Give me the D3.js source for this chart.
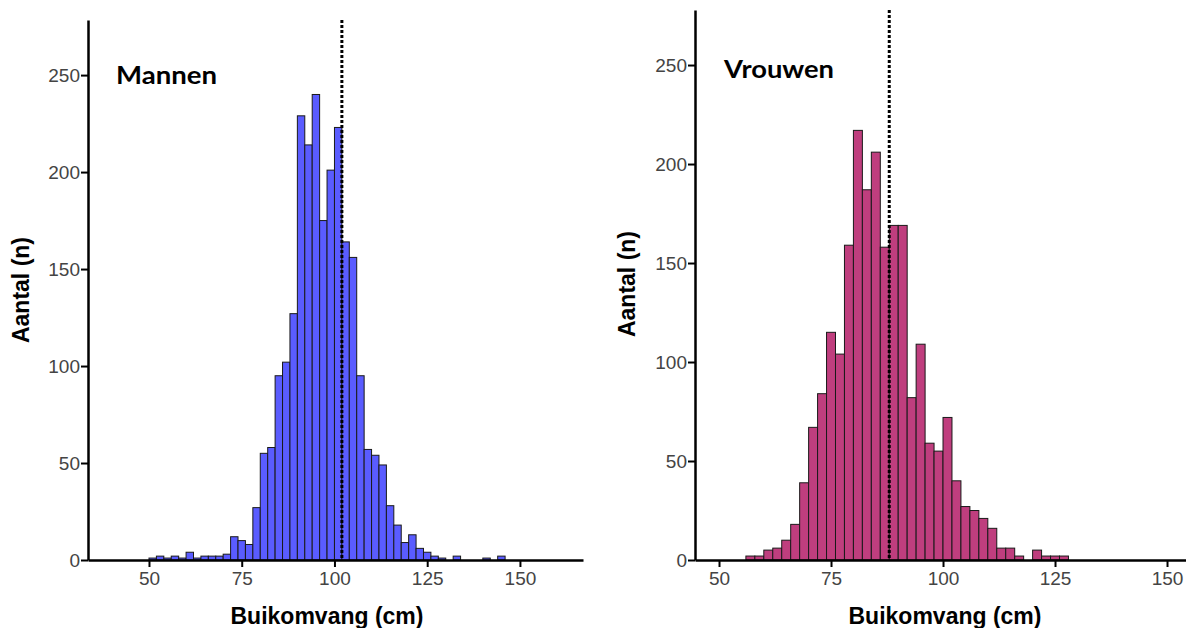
<!DOCTYPE html>
<html>
<head>
<meta charset="utf-8">
<script src="https://cdn.jsdelivr.net/npm/d3@7"></script>
<style>
  html, body { margin: 0; padding: 0; background: #fff; }
  svg { display: block; }
</style>
</head>
<body>
<svg id="chart" width="1186" height="628"></svg>
<script>
// ---- Data (bin width 2 cm, bin start values) ----
const binWidth = 2;
const menBinStarts = d3.range(50, 146, 2);
const menCounts = [1, 2, 1, 2, 1, 4, 1, 2, 2, 2, 3, 12, 10, 8, 27, 55, 58, 95, 102, 127,
  229, 214, 240, 175, 201, 223, 164, 156, 95, 57, 54, 49, 28, 18, 9, 13, 6, 4, 2, 1,
  0, 2, 0, 0, 0, 1, 0, 2];
const womenBinStarts = d3.range(56, 128, 2);
const womenCounts = [2, 2, 5, 6, 10, 18, 39, 67, 84, 115, 104, 159, 217, 187, 206, 158,
  169, 169, 82, 109, 59, 55, 72, 40, 27, 25, 21, 16, 6, 6, 2, 0, 5, 2, 2, 2];
const xTicks = [50, 75, 100, 125, 150];
const yTicks = [0, 50, 100, 150, 200, 250];
const menCutoff = 102;
const womenCutoff = 88;
const titles = ["Mannen", "Vrouwen"];
const xTitle = "Buikomvang (cm)";
const yTitle = "Aantal (n)";

const svg = d3.select("#chart");
const sans = "'Liberation Sans', Arial, sans-serif";

function panel(cfg) {
  const g = svg.append("g");
  const x = d3.scaleLinear().domain(cfg.xDomain).range([cfg.left, cfg.right]);
  const y = d3.scaleLinear().domain(cfg.yDomain).range([cfg.bottom, cfg.top]);
  const bins = cfg.starts.map((s, i) => ({x0: s, x1: s + binWidth, n: cfg.counts[i]}));

  g.selectAll("rect.bar").data(bins.filter(d => d.n > 0)).join("rect")
    .attr("class", "bar")
    .attr("x", d => x(d.x0))
    .attr("width", d => x(d.x1) - x(d.x0))
    .attr("y", d => y(d.n))
    .attr("height", d => y(0) - y(d.n))
    .attr("fill", cfg.color)
    .attr("stroke", "#1a1a1a")
    .attr("stroke-width", 1);

  // cutoff line
  g.append("line")
    .attr("x1", x(cfg.cutoff)).attr("x2", x(cfg.cutoff))
    .attr("y1", y(cfg.yDomain[1])).attr("y2", y(0))
    .attr("stroke", "#000").attr("stroke-width", 3)
    .attr("stroke-dasharray", "3,2");

  // axes
  const xAxis = g.append("g").attr("transform", `translate(0,${cfg.bottom})`)
    .call(d3.axisBottom(x).tickValues(xTicks).tickSize(7).tickSizeOuter(0).tickPadding(5));
  const yAxis = g.append("g").attr("transform", `translate(${cfg.left},0)`)
    .call(d3.axisLeft(y).tickValues(yTicks).tickSize(7).tickSizeOuter(0).tickPadding(1));
  [xAxis, yAxis].forEach(a => {
    a.select(".domain").attr("stroke", "#000").attr("stroke-width", 2.5);
    a.selectAll(".tick line").attr("stroke", "#000").attr("stroke-width", 2);
    a.selectAll(".tick text")
      .attr("font-family", sans)
      .attr("font-size", 19).attr("fill", "#444");
  });

  // titles
  g.append("text").attr("x", cfg.titleX).attr("y", cfg.titleY)
    .attr("font-family", "Lato, 'Open Sans', sans-serif").attr("font-weight", "bold")
    .attr("font-size", 25).attr("fill", "#000")
    .attr("textLength", cfg.titleW).attr("lengthAdjust", "spacingAndGlyphs")
    .text(cfg.title);

  g.append("text").attr("x", cfg.xTitleX).attr("y", 624)
    .attr("text-anchor", "middle")
    .attr("font-family", sans).attr("font-weight", "bold")
    .attr("font-size", 23).attr("fill", "#000").text(xTitle);

  g.append("text")
    .attr("transform", `translate(${cfg.yTitleX},${cfg.yTitleY}) rotate(-90)`)
    .attr("text-anchor", "middle")
    .attr("font-family", sans).attr("font-weight", "bold")
    .attr("font-size", 23).attr("fill", "#000").text(yTitle);
}

panel({
  starts: menBinStarts, counts: menCounts, color: "#5a5cff", cutoff: menCutoff,
  xDomain: [33.56, 167], yDomain: [0, 278.4],
  left: 88, right: 583, top: 20, bottom: 560,
  title: titles[0], titleX: 116, titleY: 84, titleW: 101,
  xTitleX: 327, yTitleX: 29, yTitleY: 290
});
panel({
  starts: womenBinStarts, counts: womenCounts, color: "#bf3e7e", cutoff: womenCutoff,
  xDomain: [44.64, 155.13], yDomain: [0, 277.8],
  left: 695, right: 1190, top: 10, bottom: 560,
  title: titles[1], titleX: 724, titleY: 78, titleW: 110,
  xTitleX: 945, yTitleX: 635, yTitleY: 284
});
</script>
</body>
</html>
